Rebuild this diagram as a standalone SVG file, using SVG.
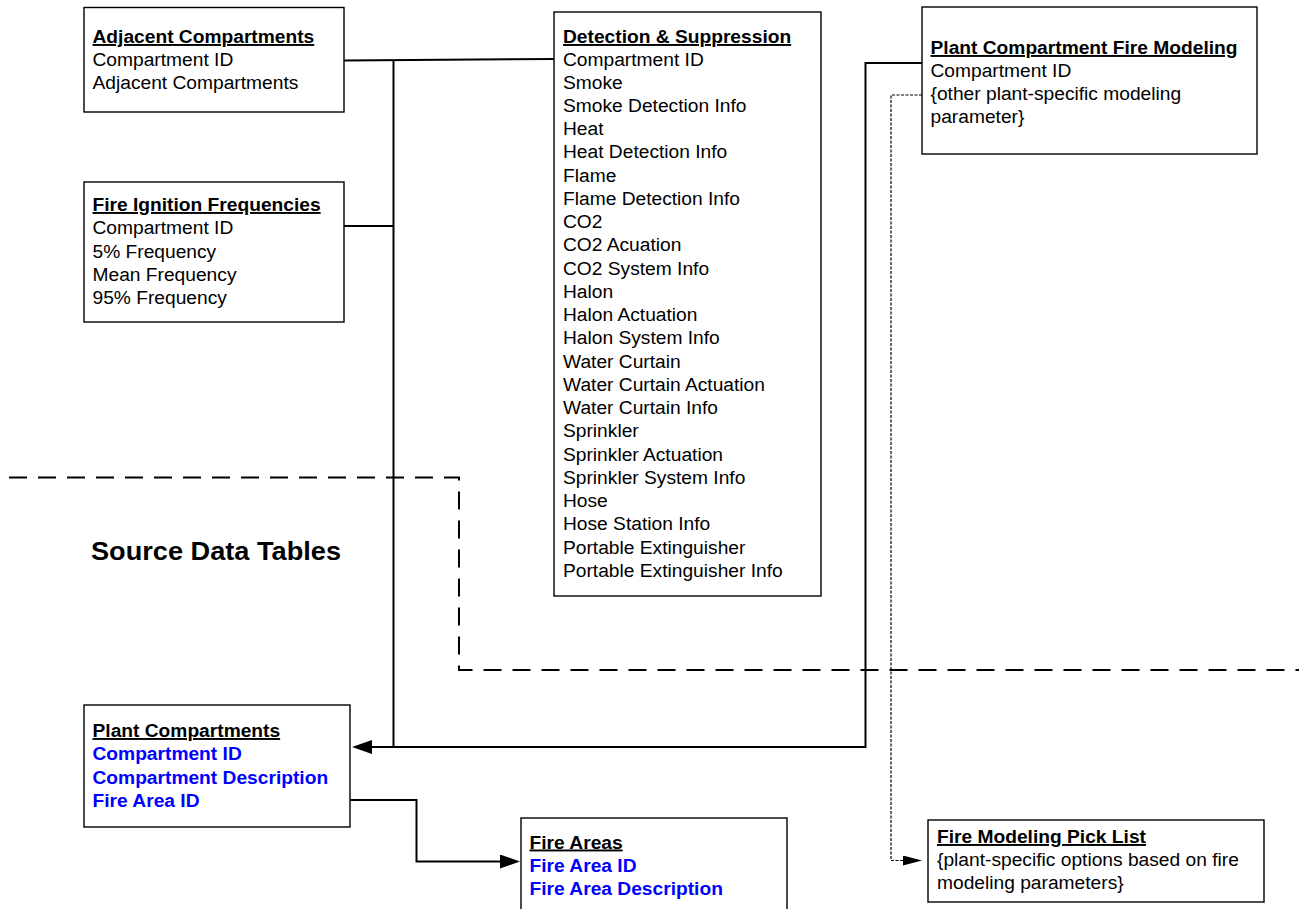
<svg xmlns="http://www.w3.org/2000/svg" width="1299" height="909" viewBox="0 0 1299 909">
<style>
text{font-family:"Liberation Sans",Arial,Helvetica,sans-serif;font-size:19.2px;fill:#000}
.t{font-weight:bold;text-decoration:underline}
.b{font-weight:bold;fill:#0000FF}
.box{fill:#fff;stroke:#000;stroke-width:1.4}
.conn{fill:none;stroke:#000;stroke-width:2}
.dot{fill:none;stroke:#000;stroke-width:1.2;stroke-dasharray:3 1.5}
.bound{fill:none;stroke:#000;stroke-width:2;stroke-dasharray:18 11}
</style>
<defs>
<marker id="arr" markerUnits="userSpaceOnUse" markerWidth="20" markerHeight="14" viewBox="0 0 20 14" refX="0" refY="7" orient="auto">
<path d="M0,0 L20,7 L0,14 z" fill="#000"/>
</marker>
<marker id="arrs" markerUnits="userSpaceOnUse" markerWidth="19" markerHeight="10" viewBox="0 0 19 10" refX="0" refY="5" orient="auto">
<path d="M0,0 L19,5 L0,10 z" fill="#000"/>
</marker>
</defs>
<rect width="1299" height="909" fill="#fff"/>

<g id="boundary">
<path class="bound" d="M9 477.5 H459 V670 H1299"/>
<text x="91" y="560" font-weight="bold" style="font-size:25px" textLength="250" lengthAdjust="spacingAndGlyphs">Source Data Tables</text>
</g>

<g id="connectors">
<path class="conn" d="M344 60.5 L554 59"/>
<path class="conn" d="M393.5 60 V747"/>
<path class="conn" d="M344 226 H393.5"/>
<path class="conn" d="M922 63 H865.5 V747 H372" marker-end="url(#arr)"/>
<path class="conn" d="M350 800 H416.5 V861.5 H500" marker-end="url(#arr)"/>
<path class="dot" d="M922 95 H891 V860.5 H903" marker-end="url(#arrs)"/>
</g>

<g id="adjacent-compartments">
<rect class="box" x="84" y="7.5" width="260" height="104.5"/>
<text class="t" x="92.5" y="43">Adjacent Compartments</text>
<text x="92.5" y="66">Compartment ID</text>
<text x="92.5" y="89">Adjacent Compartments</text>
</g>

<g id="fire-ignition-frequencies">
<rect class="box" x="84" y="182" width="260" height="140"/>
<text class="t" x="92.5" y="211">Fire Ignition Frequencies</text>
<text x="92.5" y="234">Compartment ID</text>
<text x="92.5" y="257.5">5% Frequency</text>
<text x="92.5" y="281">Mean Frequency</text>
<text x="92.5" y="304">95% Frequency</text>
</g>

<g id="detection-suppression">
<rect class="box" x="554" y="12" width="267" height="584"/>
<text class="t" x="563" y="43">Detection &amp; Suppression</text>
<text x="563" y="65.5">Compartment ID</text>
<text x="563" y="88.5">Smoke</text>
<text x="563" y="111.5">Smoke Detection Info</text>
<text x="563" y="135">Heat</text>
<text x="563" y="158">Heat Detection Info</text>
<text x="563" y="181.5">Flame</text>
<text x="563" y="204.5">Flame Detection Info</text>
<text x="563" y="228">CO2</text>
<text x="563" y="251">CO2 Acuation</text>
<text x="563" y="274.5">CO2 System Info</text>
<text x="563" y="297.5">Halon</text>
<text x="563" y="321">Halon Actuation</text>
<text x="563" y="344">Halon System Info</text>
<text x="563" y="367.5">Water Curtain</text>
<text x="563" y="390.5">Water Curtain Actuation</text>
<text x="563" y="414">Water Curtain Info</text>
<text x="563" y="437">Sprinkler</text>
<text x="563" y="460.5">Sprinkler Actuation</text>
<text x="563" y="483.5">Sprinkler System Info</text>
<text x="563" y="507">Hose</text>
<text x="563" y="530">Hose Station Info</text>
<text x="563" y="553.5">Portable Extinguisher</text>
<text x="563" y="576.5">Portable Extinguisher Info</text>
</g>

<g id="plant-compartment-fire-modeling">
<rect class="box" x="922" y="7" width="335" height="147"/>
<text class="t" x="930.5" y="54">Plant Compartment Fire Modeling</text>
<text x="930.5" y="76.5">Compartment ID</text>
<text x="930.5" y="99.5">{other plant-specific modeling</text>
<text x="930.5" y="122.5">parameter}</text>
</g>

<g id="plant-compartments">
<rect class="box" x="84" y="705" width="266" height="122"/>
<text class="t" x="92.5" y="737">Plant Compartments</text>
<text class="b" x="92.5" y="760">Compartment ID</text>
<text class="b" x="92.5" y="783.5">Compartment Description</text>
<text class="b" x="92.5" y="806.5">Fire Area ID</text>
</g>

<g id="fire-areas">
<rect class="box" x="521" y="818" width="266" height="110"/>
<text class="t" x="529.5" y="848.5">Fire Areas</text>
<text class="b" x="529.5" y="871.5">Fire Area ID</text>
<text class="b" x="529.5" y="894.5">Fire Area Description</text>
</g>

<g id="fire-modeling-pick-list">
<rect class="box" x="928" y="820" width="336" height="82"/>
<text class="t" x="937" y="843">Fire Modeling Pick List</text>
<text x="937" y="866">{plant-specific options based on fire</text>
<text x="937" y="889">modeling parameters}</text>
</g>
</svg>
